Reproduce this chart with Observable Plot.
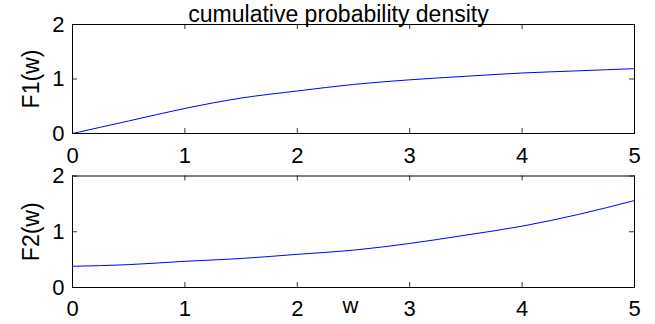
<!DOCTYPE html>
<html><head><meta charset="utf-8">
<script src="https://cdn.jsdelivr.net/npm/d3@7"></script>
<script src="https://cdn.jsdelivr.net/npm/@observablehq/plot@0.6"></script>
<style>
body{margin:0;background:#fff;}
#chart{position:relative;width:655px;height:324px;font-family:"Liberation Sans",Arial,sans-serif;}
#chart svg{position:absolute;left:0;top:0;}
</style></head><body><div id="chart"></div>
<script>
const w  = [0, 0.5, 1, 1.5, 2, 2.5, 3, 3.5, 4, 4.5, 5];
const F1 = [0, 0.23, 0.46, 0.65, 0.78, 0.90, 0.985, 1.05, 1.11, 1.15, 1.19];
const F2 = [0.38, 0.41, 0.47, 0.52, 0.595, 0.67, 0.79, 0.94, 1.10, 1.31, 1.56];
const xTicks = [0, 1, 2, 3, 4, 5];
const yTicks = [0, 1, 2];
const title = "cumulative probability density";
const yLabels = ["F1(w)", "F2(w)"];
const xLabel = "w";

const W = 655, H = 324, ML = 72, MR = 21;
const FONT = "'Liberation Sans', Arial, sans-serif";

function panel(vals, top, bottom, yLabel, extra, xPad) {
  const fh = bottom - top;
  const fw = W - ML - MR;
  const data = w.map((x, i) => ({w: x, v: vals[i]}));
  return Plot.plot({
    width: W, height: H,
    marginLeft: ML, marginRight: MR, marginTop: top, marginBottom: H - bottom,
    x: {domain: [0, 5]},
    y: {domain: [0, 2]},
    style: {background: "transparent", fontFamily: FONT, fontSize: "22px", color: "black", overflow: "visible"},
    marks: [
      Plot.line(data, {x: "w", y: "v", stroke: "#0000ff", strokeWidth: 1, curve: "monotone-x"}),
      Plot.tickX(xTicks, {x: d => d, insetTop: fh - 5, stroke: "#333"}),
      Plot.tickX(xTicks, {x: d => d, insetBottom: fh - 5, stroke: "#333"}),
      Plot.tickY(yTicks, {y: d => d, insetRight: fw - 5, stroke: "#333"}),
      Plot.tickY(yTicks, {y: d => d, insetLeft: fw - 5, stroke: "#333"}),
      Plot.frame({stroke: "black"}),
      Plot.axisX(xTicks, {tickSize: 0, tickPadding: xPad, label: null, fontSize: 22, tickFormat: d3.format("d")}),
      Plot.axisY(yTicks, {tickSize: 0, tickPadding: 8, label: null, fontSize: 22, tickFormat: d3.format("d")}),
      Plot.text([yLabel], {text: d => d, frameAnchor: "left", textAnchor: "middle", lineAnchor: "middle", dx: -41, rotate: -90, fontSize: 23}),
      ...extra
    ]
  });
}

const chart = document.getElementById("chart");
chart.append(panel(F1, 24, 133, yLabels[0], [
  Plot.text([title], {text: d => d, frameAnchor: "top", lineAnchor: "bottom", dx: -15, dy: -3, fontSize: 23})
], 14));
chart.append(panel(F2, 175.5, 287, yLabels[1], [
  Plot.text([xLabel], {text: d => d, frameAnchor: "bottom", lineAnchor: "top", dx: -3, dy: 10, fontSize: 22})
], 13));
</script></body></html>
